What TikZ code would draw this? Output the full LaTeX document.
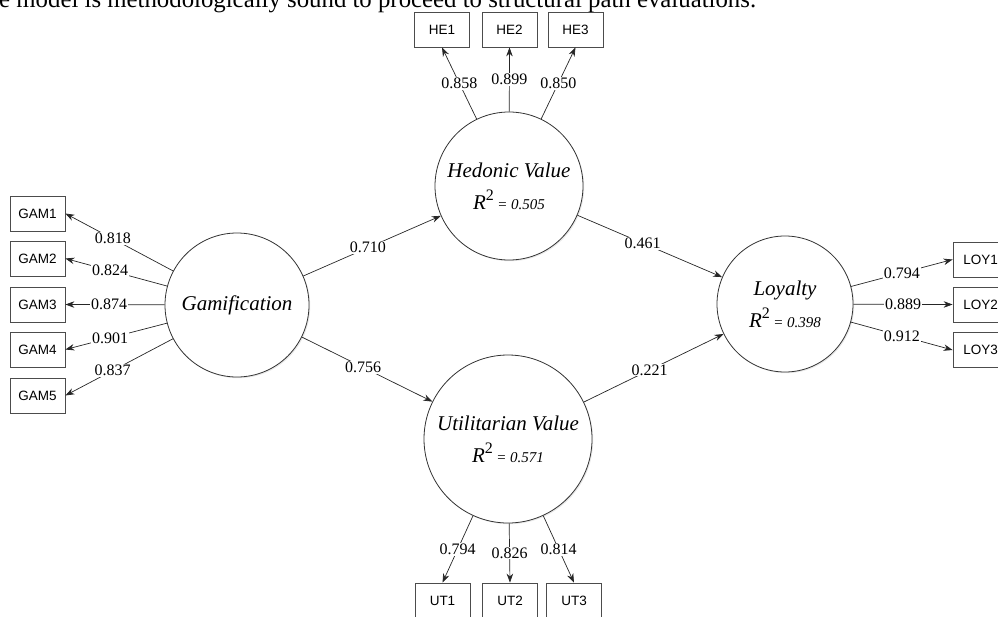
\documentclass[tikz,border=0pt]{standalone}
\usepackage{fontspec}
\setmainfont{Liberation Serif}
\newfontfamily\boxfont{Liberation Sans}
\usetikzlibrary{positioning,arrows.meta,shadows}

% R-squared line inside a construct
\newcommand{\rsq}[1]{R\raisebox{0.42em}{\fontsize{16}{16}\selectfont\upshape 2}\,{\fontsize{15}{15}\selectfont = #1}}

\begin{document}
\begin{tikzpicture}[x=1pt, y=-1pt,
    latent/.style={circle, draw=black!80, line width=0.8pt, fill=white,
                   align=center, inner sep=0pt,
                   drop shadow={opacity=0.18, shadow xshift=1.2pt, shadow yshift=-1.2pt},
                   font=\fontsize{21}{32}\selectfont\itshape},
    ind/.style={draw=black!70, line width=0.8pt, minimum width=55pt,
                minimum height=35pt, inner sep=0pt,
                font=\boxfont\fontsize{13.5}{15}\selectfont},
    link/.style={draw=black!85, line width=0.7pt,
                 -{Stealth[length=9pt,width=6.5pt]}},
    lbl/.style={fill=white, inner sep=1pt, font=\fontsize{16}{18}\selectfont}
]
\useasboundingbox (0,0) rectangle (998,616);
\clip (0,0) rectangle (998,616);

% Text line cut by the top edge
\node[anchor=base west, inner sep=0pt, font=\fontsize{24.8}{28}\selectfont]
    (cut) at (-1,7)
    {e model is methodologically sound to proceed to structural path evaluations.};

% Constructs
\node[latent, minimum size=144pt] (gam)  at (237,305) {Gamification};
\node[latent, minimum size=148pt] (hed)  at (509,186) {Hedonic Value\\\rsq{0.505}};
\node[latent, minimum size=168pt] (util) at (508,439) {Utilitarian Value\\\rsq{0.571}};
\node[latent, minimum size=136pt] (loy)  at (785,304) {Loyalty\\\rsq{0.398}};

% Indicators
\foreach \i/\y in {1/213.5, 2/258.5, 3/304.5, 4/349.5, 5/395.5}
    \node[ind] (gam\i) at (37.5,\y) {GAM\i};
\foreach \i/\x in {1/442, 2/509.5, 3/575.5}
    \node[ind] (he\i) at (\x,29.5) {HE\i};
\foreach \i/\x in {1/442.5, 2/510, 3/574}
    \node[ind] (ut\i) at (\x,600.5) {UT\i};
\foreach \i/\y in {1/259.5, 2/304.5, 3/350}
    \node[ind] (loy\i) at (980.5,\y) {LOY\i};

% Outer loadings
\foreach \i/\v in {1/0.818, 2/0.824, 3/0.874, 4/0.901, 5/0.837}
    \draw[link] (gam) -- node[lbl, pos=0.56] {\v} (gam\i.east);
\foreach \i/\v in {1/0.858, 2/0.899, 3/0.850}
    \draw[link] (hed) -- node[lbl, pos=0.5] {\v} (he\i.south);
\foreach \i/\v in {1/0.794, 2/0.826, 3/0.814}
    \draw[link] (util) -- node[lbl, pos=0.5] {\v} (ut\i.north);
\foreach \i/\v in {1/0.794, 2/0.889, 3/0.912}
    \draw[link] (loy) -- node[lbl, pos=0.5] {\v} (loy\i.west);

% Path coefficients
\draw[link] (gam)  -- node[lbl, pos=0.47] {0.710} (hed);
\draw[link] (gam)  -- node[lbl, pos=0.47] {0.756} (util);
\draw[link] (hed)  -- node[lbl, pos=0.45] {0.461} (loy);
\draw[link] (util) -- node[lbl, pos=0.47] {0.221} (loy);

\end{tikzpicture}
\end{document}
